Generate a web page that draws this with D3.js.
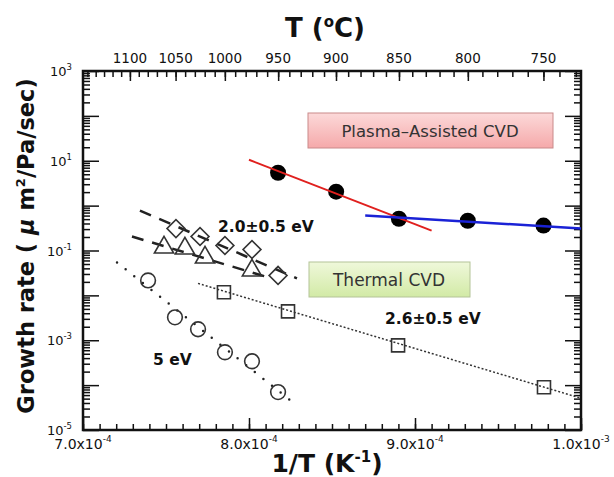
<!DOCTYPE html>
<html>
<head>
<meta charset="utf-8">
<script src="https://cdn.jsdelivr.net/npm/d3@7"></script>
<style>
body { margin: 0; background: #fff; }
svg { display: block; }
text { font-family: "DejaVu Sans", sans-serif; fill: #111; }
</style>
</head>
<body>
<div id="chart"></div>
<script>
// x values are 1/T (K^-1), y values growth rate
var plasmaX = [8.175e-4, 8.525e-4, 8.903e-4, 9.318e-4, 9.774e-4];
var plasmaY = [5.4, 2.05, 0.51, 0.46, 0.36];

var squareX = [7.849e-4, 8.235e-4, 8.898e-4, 9.777e-4];
var squareY = [0.0117, 0.0044, 7.7e-4, 9.0e-5];

var circleX = [7.392e-4, 7.554e-4, 7.693e-4, 7.855e-4, 8.018e-4, 8.175e-4];
var circleY = [0.0215, 0.00324, 0.00176, 5.4e-4, 3.4e-4, 7.0e-5];

var diamondX = [7.560e-4, 7.705e-4, 7.855e-4, 8.018e-4, 8.175e-4];
var diamondY = [0.308, 0.205, 0.129, 0.105, 0.0278];

var triangleX = [7.488e-4, 7.614e-4, 7.735e-4, 8.018e-4];
var triangleY = [0.117, 0.111, 0.070, 0.036];

// fitted lines, end points
var redFitX = [8.0e-4, 9.10e-4],   redFitY = [10.5, 0.278];
var blueFitX = [8.70e-4, 1.0e-3],  blueFitY = [0.60, 0.31];
var sqFitX = [7.693e-4, 1.0e-3],   sqFitY = [0.0185, 5.1e-5];
var ciFitX = [7.205e-4, 8.277e-4], ciFitY = [0.054, 3.8e-5];
var diFitX = [7.343e-4, 8.289e-4], diFitY = [0.774, 0.0239];
var trFitX = [7.295e-4, 8.096e-4], trFitY = [0.205, 0.0265];

// tick labels
var xMajor = [7e-4, 8e-4, 9e-4, 1e-3];
var xTickBase = ["7.0x10", "8.0x10", "9.0x10", "1.0x10"];
var xTickExp = ["-4", "-4", "-4", "-3"];
var yLabeled = [1e3, 1e1, 1e-1, 1e-3, 1e-5];
var yTickExp = ["3", "1", "-1", "-3", "-5"];
var tempMajor = [1100, 1050, 1000, 950, 900, 850, 800, 750];

var W = 614, H = 477;
var L = 83, R = 581, T = 71, B = 430;

var svg = d3.select("#chart").append("svg")
    .attr("width", W)
    .attr("height", H);

var x = d3.scaleLinear().domain([7e-4, 1e-3]).range([L, R]);
var y = d3.scaleLog().domain([1e-5, 1e3]).range([B, T]);
var invK = function(c) { return 1 / (c + 273.15); };

function noDomain(g) {
    g.select(".domain").remove();
    g.selectAll(".tick line").attr("stroke", "#111").attr("stroke-width", 1.5);
}

// bottom axis
var xMinor = d3.range(70, 101).map(function(d) { return d * 1e-5; });
svg.append("g").attr("transform", "translate(0," + B + ")")
    .call(d3.axisBottom(x).tickValues(xMinor).tickSize(-6).tickFormat(""))
    .call(noDomain);
svg.append("g").attr("transform", "translate(0," + B + ")")
    .call(d3.axisBottom(x).tickValues(xMajor).tickSize(-12).tickFormat(""))
    .call(noDomain);

var xl = svg.append("g").selectAll("text")
    .data(xMajor)
    .enter()
    .append("text")
    .attr("x", function(d) { return x(d); })
    .attr("y", 449)
    .attr("text-anchor", "middle")
    .attr("font-size", 14);
xl.append("tspan").text(function(d, i) { return xTickBase[i]; });
xl.append("tspan").attr("dy", -7).attr("font-size", 9).text(function(d, i) { return xTickExp[i]; });

// top axis (deg C)
var tempMinor = d3.range(730, 1160, 10);
svg.append("g").attr("transform", "translate(0," + T + ")")
    .call(d3.axisTop(x).tickValues(tempMinor.map(invK)).tickSize(-6).tickFormat(""))
    .call(noDomain);
svg.append("g").attr("transform", "translate(0," + T + ")")
    .call(d3.axisTop(x).tickValues(tempMajor.map(invK)).tickSize(-10).tickFormat(""))
    .call(noDomain);
svg.append("g").selectAll("text")
    .data(tempMajor)
    .enter()
    .append("text")
    .attr("x", function(d) { return x(invK(d)); })
    .attr("y", 63)
    .attr("text-anchor", "middle")
    .attr("font-size", 13.5)
    .text(function(d) { return d; });

// left / right axes
var yMajor = d3.range(-5, 4).map(function(e) { return Math.pow(10, e); });
var yMinor = [];
yMajor.slice(0, -1).forEach(function(m) {
    for (var k = 2; k < 10; k++) yMinor.push(m * k);
});
[["L", L], ["R", R]].forEach(function(side) {
    var ax = side[0] === "L" ? d3.axisLeft : d3.axisRight;
    svg.append("g").attr("transform", "translate(" + side[1] + ",0)")
        .call(ax(y).tickValues(yMinor).tickSize(-7).tickFormat(""))
        .call(noDomain);
    svg.append("g").attr("transform", "translate(" + side[1] + ",0)")
        .call(ax(y).tickValues(yMajor).tickSize(-16).tickFormat(""))
        .call(noDomain);
});

var yl = svg.append("g").selectAll("text")
    .data(yLabeled)
    .enter()
    .append("text")
    .attr("x", 72)
    .attr("y", function(d) { return y(d) + 5; })
    .attr("text-anchor", "end")
    .attr("font-size", 13);
yl.append("tspan").text("10");
yl.append("tspan").attr("dy", -6).attr("font-size", 8.5).text(function(d, i) { return yTickExp[i]; });

// frame
svg.append("rect")
    .attr("x", L).attr("y", T)
    .attr("width", R - L).attr("height", B - T)
    .attr("fill", "none")
    .attr("stroke", "#111")
    .attr("stroke-width", 2.5);

// axis titles
var xt = svg.append("text")
    .attr("x", 327).attr("y", 472)
    .attr("text-anchor", "middle")
    .attr("font-size", 25)
    .attr("font-weight", "bold");
xt.append("tspan").text("1/T (K");
xt.append("tspan").attr("dy", -10).attr("font-size", 15).text("-1");
xt.append("tspan").attr("dy", 10).text(")");

var tt = svg.append("text")
    .attr("x", 325).attr("y", 37)
    .attr("text-anchor", "middle")
    .attr("font-size", 26)
    .attr("font-weight", "bold");
tt.append("tspan").text("T (");
tt.append("tspan").attr("dy", -10).attr("font-size", 15).text("o");
tt.append("tspan").attr("dy", 10).text("C)");

var yt = svg.append("text")
    .attr("transform", "translate(34,246) rotate(-90)")
    .attr("text-anchor", "middle")
    .attr("font-size", 22.5)
    .attr("font-weight", "bold");
yt.append("tspan").text("Growth rate ( ");
yt.append("tspan").attr("font-style", "italic").text("\u03bc");
yt.append("tspan").text(" m");
yt.append("tspan").attr("dy", -9).attr("font-size", 13).text("2");
yt.append("tspan").attr("dy", 9).text("/Pa/sec)");

// boxes
var defs = svg.append("defs");
var gp = defs.append("linearGradient").attr("id", "gPink").attr("x1", 0).attr("y1", 0).attr("x2", 0).attr("y2", 1);
gp.append("stop").attr("offset", "0%").attr("stop-color", "#fcd9d9");
gp.append("stop").attr("offset", "100%").attr("stop-color", "#f5a9aa");
var gg = defs.append("linearGradient").attr("id", "gGreen").attr("x1", 0).attr("y1", 0).attr("x2", 0).attr("y2", 1);
gg.append("stop").attr("offset", "0%").attr("stop-color", "#eff8da");
gg.append("stop").attr("offset", "100%").attr("stop-color", "#d2eaa6");

svg.append("rect")
    .attr("x", 308).attr("y", 113).attr("width", 245).attr("height", 35)
    .attr("fill", "url(#gPink)").attr("stroke", "#c98a8a").attr("stroke-width", 1);
svg.append("text")
    .attr("x", 430).attr("y", 137).attr("text-anchor", "middle")
    .attr("font-size", 16.5).style("fill", "#333")
    .text("Plasma\u2013Assisted CVD");

svg.append("rect")
    .attr("x", 309).attr("y", 262).attr("width", 161).attr("height", 35)
    .attr("fill", "url(#gGreen)").attr("stroke", "#b4c398").attr("stroke-width", 1);
svg.append("text")
    .attr("x", 389).attr("y", 286).attr("text-anchor", "middle")
    .attr("font-size", 17).style("fill", "#333")
    .text("Thermal CVD");

// fit lines
function fitLine(fx, fy, color, width, dash, cap) {
    var pts = fx.map(function(v, i) { return [x(v), y(fy[i])]; });
    svg.append("path")
        .attr("d", d3.line()(pts))
        .attr("fill", "none")
        .attr("stroke", color)
        .attr("stroke-width", width)
        .attr("stroke-dasharray", dash)
        .attr("stroke-linecap", cap || "butt");
}

fitLine(sqFitX, sqFitY, "#333", 1.5, "2,2");
fitLine(ciFitX, ciFitY, "#222", 2.5, "0,11", "round");
fitLine(diFitX, diFitY, "#222", 2.5, "12,9");
fitLine(trFitX, trFitY, "#222", 2.5, "12,9");

// markers
function markers(xs, ys, type, size, rot) {
    svg.append("g").selectAll("path")
        .data(xs)
        .enter()
        .append("path")
        .attr("d", d3.symbol().type(type).size(size))
        .attr("transform", function(d, i) {
            return "translate(" + x(d) + "," + y(ys[i]) + ") rotate(" + (rot || 0) + ")";
        })
        .attr("fill", "none")
        .attr("stroke", "#333")
        .attr("stroke-width", 1.6);
}
markers(squareX, squareY, d3.symbolSquare, 169);
markers(circleX, circleY, d3.symbolCircle, 170);
markers(diamondX, diamondY, d3.symbolSquare, 160, 45);
markers(triangleX, triangleY, d3.symbolTriangle, 160);

svg.append("g").selectAll("circle")
    .data(plasmaX)
    .enter()
    .append("circle")
    .attr("cx", function(d) { return x(d); })
    .attr("cy", function(d, i) { return y(plasmaY[i]); })
    .attr("r", 8)
    .attr("fill", "#000");

fitLine(redFitX, redFitY, "#e0201e", 2);
fitLine(blueFitX, blueFitY, "#1a22d6", 2.5);

// annotations
svg.append("text").attr("x", 218).attr("y", 232)
    .attr("font-size", 15.5).attr("font-weight", "bold").text("2.0\u00b10.5 eV");
svg.append("text").attr("x", 385).attr("y", 324)
    .attr("font-size", 15.5).attr("font-weight", "bold").text("2.6\u00b10.5 eV");
svg.append("text").attr("x", 153).attr("y", 365)
    .attr("font-size", 15.5).attr("font-weight", "bold").text("5 eV");
</script>
</body>
</html>
